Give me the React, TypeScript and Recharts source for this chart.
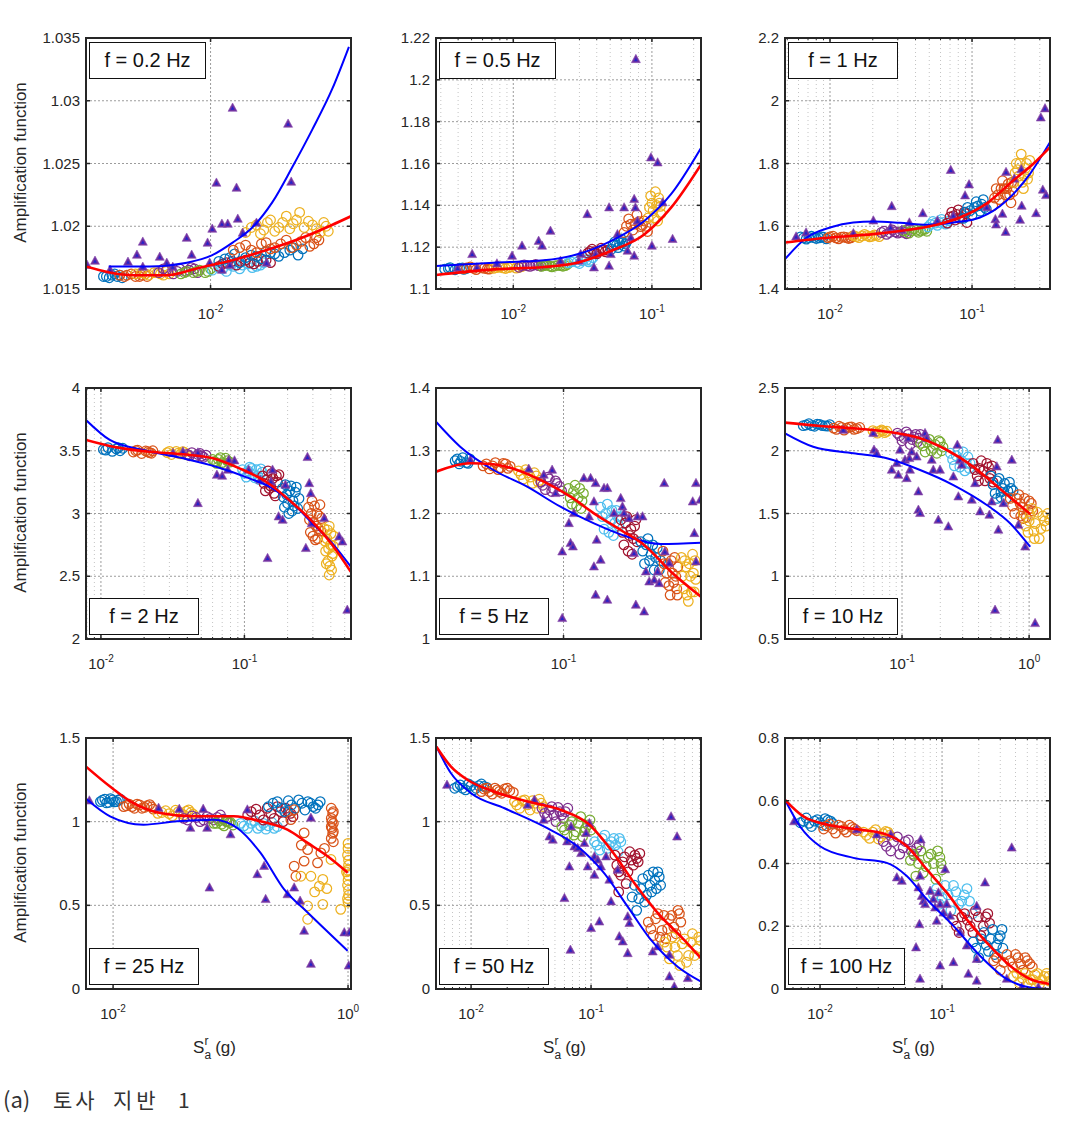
import React from 'react';
import { ComposedChart, Scatter, Line, XAxis, YAxis, CartesianGrid, ReferenceLine } from 'recharts';

// ---------- colours (MATLAB default order, cycling over the 10 intensity levels) ----------
const CLUSTER_COLORS = ['#0072BD', '#D95319', '#EDB120', '#7E2F8E', '#77AC30', '#4DBEEE', '#A2142F', '#0072BD', '#D95319', '#EDB120'];

// ---------- f = 0.2 Hz ----------
const p1Clusters = [
  '0.0029:1.0160 0.0031:1.0159 0.0032:1.0161 0.0034:1.0160 0.0036:1.0159 0.0033:1.0162',
  '0.0035:1.0161 0.0037:1.0160 0.0040:1.0162 0.0042:1.0160 0.0045:1.0161 0.0048:1.0160',
  '0.0042:1.0162 0.0045:1.0163 0.0049:1.0161 0.0052:1.0163 0.0056:1.0162 0.0060:1.0164 0.0062:1.0162',
  '0.0055:1.0163 0.0060:1.0165 0.0065:1.0162 0.0070:1.0166 0.0075:1.0164 0.0080:1.0167 0.0086:1.0163',
  '0.0071:1.0162 0.0076:1.0164 0.0082:1.0163 0.0088:1.0165 0.0094:1.0163 0.0100:1.0166',
  '0.0102:1.0165 0.0110:1.0167 0.0120:1.0164 0.0130:1.0168 0.0140:1.0166 0.0155:1.0170 0.0170:1.0168 0.0185:1.0171',
  '0.0110:1.0168 0.0120:1.0171 0.0135:1.0169 0.0150:1.0173 0.0165:1.0170 0.0180:1.0174 0.0200:1.0171',
  '0.0110:1.0172 0.0125:1.0175 0.0140:1.0171 0.0160:1.0177 0.0180:1.0174 0.0200:1.0179 0.0220:1.0176 0.0250:1.0181 0.0275:1.0177 0.0290:1.0182',
  '0.0130:1.0181 0.0150:1.0185 0.0170:1.0179 0.0190:1.0187 0.0210:1.0183 0.0240:1.0189 0.0270:1.0185 0.0300:1.0191 0.0330:1.0186 0.0350:1.0189',
  '0.0150:1.0195 0.0170:1.0201 0.0185:1.0197 0.0200:1.0205 0.0220:1.0199 0.0240:1.0208 0.0260:1.0202 0.0280:1.0211 0.0310:1.0204 0.0340:1.0198 0.0370:1.0203 0.0390:1.0196',
];
const p1Extra = [
  '0.0030:1.0160 0.0035:1.0161',
  '0.0038:1.0161 0.0044:1.0160 0.0047:1.0162',
  '0.0047:1.0162 0.0054:1.0163 0.0058:1.0161',
  '0.0058:1.0166 0.0068:1.0164 0.0078:1.0165 0.0083:1.0166',
  '0.0074:1.0163 0.0085:1.0164 0.0097:1.0164',
  '0.0115:1.0166 0.0125:1.0169 0.0145:1.0169 0.0162:1.0167 0.0178:1.0169',
  '0.0115:1.0170 0.0128:1.0172 0.0142:1.0172 0.0158:1.0171 0.0172:1.0172 0.0190:1.0173',
  '0.0118:1.0174 0.0132:1.0178 0.0150:1.0175 0.0170:1.0176 0.0190:1.0180 0.0210:1.0178 0.0235:1.0179 0.0260:1.0183',
  '0.0140:1.0183 0.0160:1.0181 0.0180:1.0186 0.0200:1.0182 0.0225:1.0186 0.0255:1.0183 0.0285:1.0188 0.0315:1.0184 0.0340:1.0191',
  '0.0160:1.0199 0.0178:1.0194 0.0193:1.0203 0.0210:1.0196 0.0230:1.0203 0.0250:1.0198 0.0270:1.0205 0.0295:1.0199 0.0325:1.0201 0.0355:1.0195 0.0380:1.0200',
];
const p1Triangles = '0.0024:1.0169 0.00263:1.01723 0.00313:1.01651 0.00385:1.01715 0.00427:1.01771 0.00457:1.01875 0.00457:1.01675 0.00556:1.01755 0.00603:1.01707 0.00646:1.01675 0.00759:1.01906 0.00804:1.01771 0.00966:1.01867 0.0102:1.01978 0.0107:1.02345 0.0114:1.02018 0.0122:1.02018 0.0129:1.02942 0.0135:1.02305 0.0137:1.02058 0.0145:1.01946 0.017:1.02026 0.0191:1.01707 0.0114:1.01651 0.0125:1.0169 0.0099:1.01707 0.0245:1.02815 0.0254:1.02353';
const p1Blue = '0.00308:1.0168 0.00495:1.0168 0.0076:1.0171 0.0102:1.0177 0.0129:1.0187 0.0162:1.0199 0.0204:1.0219 0.0257:1.0247 0.0324:1.0277 0.0407:1.0309 0.0495:1.0343';
const p1Red = '0.00237:1.0168 0.0041:1.0161 0.006:1.0161 0.0088:1.0167 0.0129:1.0173 0.0191:1.0181 0.0279:1.019 0.0407:1.0201 0.0507:1.0208';

// ---------- f = 0.5 Hz ----------
const p2Clusters = [
  '0.0032:1.1095 0.0035:1.1102 0.0038:1.1092 0.0041:1.1100 0.0044:1.1094 0.0046:1.1098',
  '0.0044:1.1097 0.0049:1.1105 0.0054:1.1093 0.0059:1.1101 0.0065:1.1096 0.0070:1.1104',
  '0.0072:1.1099 0.0080:1.1106 0.0088:1.1098 0.0096:1.1105 0.0105:1.1100 0.0115:1.1107',
  '0.0110:1.1104 0.0120:1.1115 0.0132:1.1108 0.0145:1.1118 0.0158:1.1110 0.0172:1.1116',
  '0.0160:1.1108 0.0175:1.1115 0.0190:1.1106 0.0210:1.1113 0.0228:1.1109 0.0245:1.1117',
  '0.0250:1.1125 0.0275:1.1138 0.0300:1.1122 0.0325:1.1145 0.0350:1.1130 0.0375:1.1150',
  '0.0345:1.1172 0.0370:1.1190 0.0400:1.1168 0.0430:1.1195 0.0460:1.1178 0.0480:1.1186',
  '0.0510:1.1190 0.0540:1.1225 0.0570:1.1198 0.0600:1.1240 0.0630:1.1205 0.0660:1.1228',
  '0.0630:1.1270 0.0680:1.1335 0.0730:1.1282 0.0780:1.1355 0.0830:1.1298 0.0880:1.1325 0.0930:1.1275',
  '0.0940:1.1340 0.0980:1.1445 0.1020:1.1375 0.1060:1.1465 0.1100:1.1325 0.1130:1.1410 0.1160:1.1360',
];
const p2Extra = [
  '0.0034:1.1098 0.0043:1.1101',
  '0.0046:1.1101 0.0052:1.1099 0.0062:1.1099 0.0067:1.1095',
  '0.0076:1.1102 0.0084:1.1101 0.0092:1.1102 0.0110:1.1103',
  '0.0115:1.1112 0.0126:1.1111 0.0138:1.1113 0.0152:1.1112 0.0165:1.1113',
  '0.0168:1.1112 0.0183:1.1110 0.0200:1.1110 0.0220:1.1112 0.0237:1.1112',
  '0.0262:1.1130 0.0288:1.1128 0.0312:1.1135 0.0338:1.1138 0.0362:1.1137',
  '0.0358:1.1180 0.0385:1.1178 0.0415:1.1182 0.0445:1.1185',
  '0.0525:1.1210 0.0555:1.1210 0.0585:1.1220 0.0615:1.1222 0.0645:1.1215',
  '0.0655:1.1300 0.0705:1.1310 0.0755:1.1310 0.0805:1.1322 0.0855:1.1305 0.0905:1.1300',
  '0.0960:1.1390 0.1000:1.1410 0.1040:1.1340 0.1080:1.1400 0.1120:1.1435 0.1150:1.1395',
];
const p2Triangles = '0.00397:1.1099 0.00505:1.1166 0.00546:1.1102 0.00762:1.1121 0.0098:1.1158 0.01156:1.1206 0.01524:1.1229 0.01614:1.1206 0.01854:1.1277 0.0219:1.1134 0.0297:1.1134 0.0306:1.1166 0.0342:1.1357 0.0382:1.1102 0.0393:1.1166 0.0491:1.1389 0.0491:1.111 0.0505:1.1166 0.0564:1.1261 0.063:1.1389 0.0667:1.1182 0.0705:1.1245 0.0745:1.1429 0.076:1.1389 0.0787:1.1325 0.0745:1.1158 0.0984:1.1628 0.1:1.1206 0.11:1.1604 0.1197:1.1413 0.141:1.1238 0.0766:1.2098';
const p2Blue = '0.00277:1.111 0.0072:1.1126 0.0166:1.1137 0.029:1.1166 0.0505:1.1229 0.088:1.1325 0.1374:1.1453 0.2265:1.1675';
const p2Red = '0.00277:1.1067 0.0072:1.1094 0.0166:1.1105 0.029:1.1126 0.0505:1.1182 0.088:1.1261 0.1374:1.1389 0.2265:1.1596';

// ---------- f = 1 Hz ----------
const p3Clusters = [
  '0.0062:1.566 0.0068:1.559 0.0074:1.568 0.0080:1.561 0.0087:1.566 0.0094:1.560',
  '0.0097:1.563 0.0105:1.568 0.0115:1.560 0.0125:1.566 0.0135:1.561 0.0144:1.568',
  '0.0147:1.570 0.0160:1.564 0.0175:1.574 0.0190:1.566 0.0205:1.572 0.0222:1.567',
  '0.0230:1.580 0.0250:1.574 0.0275:1.588 0.0300:1.578 0.0325:1.585 0.0345:1.576',
  '0.0330:1.585 0.0360:1.578 0.0390:1.592 0.0420:1.581 0.0450:1.589 0.0480:1.584',
  '0.0490:1.598 0.0530:1.615 0.0570:1.603 0.0610:1.622 0.0650:1.607 0.0690:1.617',
  '0.0670:1.610 0.0720:1.645 0.0760:1.620 0.0800:1.652 0.0850:1.628 0.0900:1.640 0.0920:1.612',
  '0.0870:1.625 0.0930:1.660 0.1000:1.635 0.1070:1.678 0.1140:1.648 0.1200:1.685 0.1260:1.655',
  '0.1400:1.665 0.1480:1.720 0.1560:1.685 0.1640:1.745 0.1720:1.700 0.1800:1.735 0.1880:1.675 0.1950:1.710',
  '0.1970:1.740 0.2050:1.800 0.2130:1.760 0.2220:1.830 0.2300:1.720 0.2380:1.785 0.2460:1.750 0.2550:1.810',
];
const p3Extra = [
  '0.0065:1.563 0.0071:1.564 0.0077:1.564 0.0084:1.563 0.0090:1.565',
  '0.0100:1.566 0.0110:1.563 0.0120:1.565 0.0130:1.564 0.0140:1.563',
  '0.0153:1.567 0.0168:1.569 0.0182:1.570 0.0197:1.568 0.0213:1.571',
  '0.0240:1.584 0.0262:1.580 0.0288:1.582 0.0312:1.581 0.0335:1.580',
  '0.0345:1.588 0.0375:1.586 0.0405:1.587 0.0435:1.585 0.0465:1.590',
  '0.0510:1.606 0.0550:1.610 0.0590:1.612 0.0630:1.612 0.0670:1.610',
  '0.0700:1.630 0.0740:1.633 0.0780:1.638 0.0820:1.625 0.0880:1.645',
  '0.0900:1.645 0.0970:1.650 0.1040:1.660 0.1100:1.665 0.1170:1.670 0.1230:1.660',
  '0.1440:1.690 0.1520:1.700 0.1600:1.720 0.1680:1.720 0.1760:1.720 0.1840:1.700 0.1900:1.740',
  '0.2010:1.770 0.2090:1.780 0.2170:1.800 0.2260:1.740 0.2340:1.760 0.2420:1.800 0.2500:1.770',
];
const p3Triangles = '0.00577:1.5664 0.00678:1.5792 0.0146:1.577 0.0202:1.6176 0.0272:1.6634 0.0267:1.596 0.032:1.5878 0.0362:1.6112 0.045:1.641 0.057:1.6176 0.0708:1.7786 0.0738:1.6336 0.0893:1.6976 0.0953:1.7328 0.127:1.66 0.146:1.6218 0.1476:1.6048 0.1637:1.639 0.1726:1.5814 0.1735:1.7722 0.1986:1.751 0.218:1.6198 0.2224:1.7808 0.2238:1.6646 0.2825:1.641 0.305:1.946 0.3266:1.975 0.315:1.7158 0.332:1.6986';
const p3Blue = '0.00482:1.495 0.00686:1.564 0.01:1.596 0.0146:1.612 0.0202:1.615 0.0311:1.611 0.048:1.605 0.0738:1.612 0.1138:1.628 0.1754:1.682 0.256:1.767 0.354:1.868';
const p3Red = '0.00482:1.548 0.01:1.564 0.0202:1.575 0.0347:1.588 0.0564:1.605 0.0822:1.628 0.127:1.673 0.1954:1.746 0.2705:1.799 0.354:1.852';

// ---------- f = 2 Hz ----------
const p4Clusters = [
  '0.0104:3.510 0.0112:3.525 0.0120:3.495 0.0128:3.515 0.0136:3.500 0.0142:3.520',
  '0.0168:3.490 0.0180:3.505 0.0192:3.478 0.0205:3.498 0.0218:3.485 0.0230:3.500',
  '0.0290:3.485 0.0310:3.470 0.0335:3.495 0.0360:3.475 0.0380:3.488 0.0395:3.468',
  '0.0400:3.470 0.0430:3.485 0.0460:3.455 0.0490:3.478 0.0520:3.448 0.0540:3.465',
  '0.0600:3.430 0.0640:3.400 0.0680:3.445 0.0720:3.390 0.0760:3.420 0.0790:3.410',
  '0.0970:3.350 0.1030:3.290 0.1090:3.370 0.1150:3.310 0.1210:3.350 0.1270:3.270 0.1330:3.330',
  '0.1340:3.300 0.1400:3.180 0.1460:3.340 0.1520:3.220 0.1580:3.280 0.1640:3.140 0.1700:3.250 0.1740:3.310',
  '0.1840:3.200 0.1900:3.050 0.1970:3.150 0.2040:3.000 0.2110:3.220 0.2180:3.100 0.2260:3.170 0.2350:3.040 0.2400:3.120',
  '0.2800:3.050 0.2880:2.850 0.2960:3.100 0.3040:2.930 0.3120:2.790 0.3200:3.000 0.3280:2.880 0.3360:3.070 0.3450:2.960',
  '0.3600:2.880 0.3680:2.700 0.3750:2.800 0.3820:2.620 0.3900:2.900 0.3980:2.750 0.4050:2.550 0.4120:2.680 0.4200:2.820 0.3900:2.510',
];
const p4Extra = [
  '0.0108:3.505 0.0132:3.525',
  '0.0175:3.500 0.0212:3.492 0.0225:3.480',
  '0.0300:3.495 0.0345:3.480 0.0372:3.492',
  '0.0415:3.460 0.0475:3.470 0.0505:3.458',
  '0.0620:3.415 0.0660:3.430 0.0700:3.405 0.0740:3.440',
  '0.1000:3.320 0.1060:3.340 0.1120:3.360 0.1180:3.285 0.1240:3.300 0.1300:3.355',
  '0.1370:3.240 0.1430:3.270 0.1490:3.200 0.1550:3.320 0.1610:3.160 0.1670:3.300',
  '0.1870:3.130 0.1930:3.230 0.2000:3.080 0.2070:3.180 0.2150:3.020 0.2220:3.060 0.2300:3.210',
  '0.2840:2.950 0.2920:3.000 0.3000:2.820 0.3080:3.060 0.3160:2.900 0.3240:2.800 0.3320:2.980 0.3400:2.860',
  '0.3640:2.780 0.3720:2.600 0.3790:2.870 0.3860:2.720 0.3940:2.580 0.4010:2.840 0.4080:2.660 0.4160:2.740',
];
const p4Triangles = '0.0318:3.48 0.0373:3.492 0.0474:3.484 0.0474:3.081 0.0643:3.307 0.07:3.299 0.0766:3.347 0.0778:3.426 0.0853:3.421 0.107:3.347 0.129:3.267 0.145:2.643 0.153:3.253 0.157:3.347 0.173:2.975 0.1845:2.948 0.193:3.227 0.275:3.448 0.283:3.24 0.29:3.16 0.294:2.92 0.268:2.723 0.36:2.962 0.457:2.815 0.482:2.775 0.521:2.231';
const p4Blue = '0.00787:3.745 0.01153:3.586 0.0197:3.506 0.0373:3.44 0.0635:3.373 0.1084:3.28 0.157:3.2 0.217:3.081 0.298:2.922 0.41:2.762 0.551:2.576';
const p4Red = '0.00787:3.586 0.01285:3.527 0.0219:3.492 0.0373:3.472 0.0603:3.44 0.0923:3.36 0.1416:3.253 0.205:3.108 0.298:2.935 0.41:2.749 0.551:2.536';

// ---------- f = 5 Hz ----------
const p5Clusters = [
  '0.0180:1.284 0.0192:1.279 0.0203:1.289 0.0215:1.281 0.0227:1.287',
  '0.0280:1.276 0.0310:1.271 0.0340:1.281 0.0370:1.273 0.0400:1.279 0.0430:1.275',
  '0.0490:1.268 0.0530:1.255 0.0570:1.265 0.0610:1.248 0.0650:1.260 0.0690:1.253',
  '0.0700:1.250 0.0750:1.238 0.0800:1.255 0.0850:1.240 0.0900:1.248 0.0970:1.236',
  '0.1080:1.240 0.1140:1.215 0.1200:1.245 0.1260:1.225 0.1320:1.208 0.1370:1.232',
  '0.1800:1.210 0.1900:1.175 0.2000:1.215 0.2100:1.190 0.2200:1.165 0.2300:1.205 0.2400:1.180 0.2470:1.195',
  '0.2480:1.190 0.2600:1.150 0.2720:1.195 0.2840:1.165 0.2960:1.135 0.3080:1.180 0.3200:1.155',
  '0.3400:1.155 0.3600:1.120 0.3800:1.160 0.4000:1.135 0.4200:1.110 0.4400:1.145 0.4650:1.125',
  '0.4820:1.140 0.5000:1.090 0.5200:1.120 0.5400:1.070 0.5600:1.105 0.5800:1.130 0.6000:1.080 0.6100:1.115',
  '0.6450:1.130 0.6700:1.080 0.6950:1.115 0.7200:1.060 0.7450:1.100 0.7700:1.135 0.7900:1.075 0.8100:1.095',
];
const p5Extra = [
  '0.0186:1.287 0.0197:1.283 0.0221:1.280',
  '0.0295:1.279 0.0325:1.276 0.0355:1.270 0.0385:1.280 0.0415:1.272',
  '0.0510:1.262 0.0550:1.270 0.0590:1.258 0.0630:1.265 0.0670:1.250',
  '0.0720:1.245 0.0780:1.258 0.0830:1.235 0.0880:1.252 0.0940:1.243',
  '0.1110:1.225 0.1170:1.235 0.1230:1.212 0.1290:1.240 0.1340:1.220',
  '0.1850:1.195 0.1950:1.200 0.2050:1.170 0.2150:1.205 0.2250:1.185 0.2350:1.195',
  '0.2540:1.170 0.2660:1.185 0.2780:1.140 0.2900:1.175 0.3020:1.160 0.3140:1.190',
  '0.3500:1.140 0.3700:1.150 0.3900:1.125 0.4100:1.150 0.4300:1.130 0.4550:1.110',
  '0.4900:1.120 0.5100:1.105 0.5300:1.085 0.5500:1.125 0.5700:1.090 0.5900:1.100 0.6050:1.070',
  '0.6550:1.100 0.6800:1.125 0.7050:1.070 0.7300:1.120 0.7550:1.075 0.7800:1.105 0.8000:1.125',
];
const p5Triangles = '0.0229:1.2853 0.0577:1.2709 0.0732:1.2614 0.0835:1.2693 0.0881:1.2322 0.098:1.1391 0.098:1.033 0.1089:1.1843 0.1117:1.1525 0.116:1.1471 0.1178:1.2003 0.138:1.2561 0.1535:1.2561 0.1496:1.195 0.1618:1.2188 0.1662:1.2481 0.169:1.1578 0.1618:1.1152 0.18:1.1259 0.1662:1.0701 0.1897:1.2402 0.2:1.2402 0.2:1.0622 0.2223:1.2003 0.2472:1.2242 0.254:1.2108 0.2606:1.2003 0.282:1.1923 0.305:1.1366 0.314:1.0542 0.322:1.195 0.349:1.195 0.358:1.0435 0.368:1.1073 0.388:1.0913 0.42:1.094 0.443:1.1073 0.454:1.0887 0.492:1.2481 0.497:1.1391 0.532:1.1206 0.813:1.2481 0.792:1.1684 0.772:1.2188 0.87:1.2215 0.813:1.1232';
const p5Blue = '0.0133:1.3463 0.0195:1.3065 0.033:1.2693 0.0562:1.2427 0.0953:1.2108 0.1618:1.1843 0.275:1.163 0.467:1.1514 0.88:1.1535';
const p5Red = '0.0133:1.2666 0.0229:1.28 0.033:1.2784 0.048:1.2693 0.0732:1.2507 0.1117:1.2268 0.1618:1.2003 0.247:1.1737 0.358:1.1498 0.547:1.1073 0.88:1.0674';

// ---------- f = 10 Hz ----------
const p6Clusters = [
  '0.0167:2.200 0.0185:2.215 0.0205:2.195 0.0225:2.210 0.0248:2.198 0.0270:2.208',
  '0.0290:2.180 0.0320:2.195 0.0350:2.165 0.0385:2.188 0.0420:2.170 0.0465:2.185',
  '0.0590:2.160 0.0640:2.140 0.0690:2.165 0.0730:2.145 0.0760:2.155',
  '0.0920:2.140 0.1000:2.080 0.1080:2.150 0.1160:2.050 0.1240:2.110 0.1320:2.070 0.1390:2.130',
  '0.1400:2.060 0.1520:1.990 0.1640:2.090 0.1760:2.020 0.1880:1.980 0.2000:2.070 0.2100:2.030',
  '0.2400:1.980 0.2580:1.880 0.2760:2.000 0.2940:1.920 0.3120:1.840 0.3300:1.950 0.3430:1.900',
  '0.3620:1.900 0.3900:1.800 0.4200:1.920 0.4500:1.760 0.4800:1.870 0.5000:1.820 0.5200:1.750',
  '0.5000:1.800 0.5400:1.660 0.5800:1.780 0.6200:1.700 0.6600:1.620 0.7000:1.750 0.7480:1.680 0.6000:1.630',
  '0.7100:1.620 0.7700:1.500 0.8300:1.650 0.8900:1.550 0.9500:1.470 1.0000:1.600 1.0700:1.520 0.8500:1.580',
  '0.9000:1.500 0.9800:1.350 1.0500:1.540 1.1200:1.420 1.2000:1.300 1.2800:1.480 1.3600:1.400 1.4500:1.450 1.0000:1.440',
];
const p6Extra = [
  '0.0176:2.205 0.0195:2.200 0.0215:2.212 0.0236:2.200 0.0260:2.196',
  '0.0305:2.170 0.0335:2.185 0.0365:2.180 0.0400:2.190 0.0440:2.176',
  '0.0615:2.150 0.0665:2.155 0.0710:2.158',
  '0.0960:2.120 0.1040:2.100 0.1120:2.130 0.1200:2.090 0.1280:2.130 0.1350:2.100',
  '0.1460:2.040 0.1580:2.070 0.1700:2.000 0.1820:2.050 0.1940:2.080 0.2050:2.000',
  '0.2500:1.930 0.2670:1.960 0.2850:1.870 0.3030:1.990 0.3200:1.900 0.3380:1.860',
  '0.3750:1.850 0.4050:1.860 0.4350:1.840 0.4650:1.900 0.4900:1.780 0.5100:1.880 0.4000:1.760',
  '0.5200:1.730 0.5600:1.760 0.6000:1.670 0.6400:1.740 0.6800:1.680 0.7200:1.700 0.5600:1.620',
  '0.7400:1.560 0.8000:1.620 0.8600:1.480 0.9200:1.620 0.9800:1.530 1.0400:1.580 0.9000:1.460',
  '0.9400:1.400 1.0200:1.490 1.0900:1.360 1.1600:1.510 1.2400:1.380 1.3200:1.440 1.4000:1.500 1.1000:1.300',
];
const p6Triangles = '0.0345:2.165 0.0594:2.139 0.0602:2.006 0.0632:1.98 0.083:1.847 0.0908:1.9 0.0935:1.807 0.0964:2.006 0.1056:1.926 0.1089:1.78 0.112:2.099 0.1142:1.94 0.1156:1.847 0.1192:1.992 0.1305:1.952 0.1345:1.528 0.1387:1.502 0.1345:1.674 0.1517:2.139 0.1563:2.099 0.1713:1.926 0.1763:1.847 0.1931:1.448 0.199:1.847 0.2315:1.395 0.2536:1.793 0.2725:2.046 0.2862:1.926 0.2776:1.634 0.295:1.886 0.354:1.608 0.3758:1.74 0.4113:1.515 0.4866:1.488 0.508:1.594 0.5395:0.731 0.557:1.873 0.567:2.086 0.573:1.369 0.628:1.581 0.731:1.926 0.824:1.408 0.931:1.235 1.114:0.625';
const p6Blue = '0.012:2.139 0.02:2.032 0.0414:1.98 0.0759:1.94 0.1387:1.847 0.2536:1.727 0.4645:1.568 0.708:1.422 1.019:1.235';
const p6Red = '0.012:2.224 0.0226:2.197 0.0414:2.179 0.0759:2.152 0.1387:2.099 0.225:2.006 0.364:1.873 0.524:1.741 0.752:1.608 1.019:1.496';

// ---------- f = 25 Hz ----------
const p7Clusters = [
  '0.0078:1.120 0.0085:1.135 0.0092:1.115 0.0099:1.130 0.0107:1.120 0.0115:1.135',
  '0.0123:1.090 0.0137:1.105 0.0152:1.080 0.0168:1.100 0.0185:1.085 0.0205:1.102 0.0220:1.075',
  '0.0240:1.050 0.0280:1.065 0.0320:1.035 0.0360:1.060 0.0400:1.040 0.0440:1.070 0.0480:1.045',
  '0.0400:1.020 0.0470:1.035 0.0550:1.000 0.0630:1.030 0.0720:1.010 0.0820:1.040 0.0930:1.000',
  '0.0720:0.990 0.0800:1.005 0.0880:0.975 0.0970:0.995 0.1050:0.980',
  '0.1220:0.990 0.1400:0.960 0.1600:1.005 0.1800:0.975 0.2000:0.955 0.2250:0.995 0.2500:0.970',
  '0.1400:1.040 0.1650:1.075 0.1900:1.010 0.2200:1.050 0.2500:1.090 0.2800:1.000 0.3100:1.060 0.3400:1.030',
  '0.2100:1.090 0.2500:1.120 0.2900:1.060 0.3300:1.100 0.3800:1.130 0.4300:1.070 0.4800:1.110 0.5300:1.080 0.5800:1.120',
  '0.326:1.012 0.348:1.071 0.423:0.933 0.348:0.734 0.423:0.764 0.36:0.674 0.453:0.833 0.55:0.754 0.587:0.813 0.72:1.08 0.74:1.05 0.72:1.02 0.75:0.99 0.73:0.96 0.74:0.93 0.72:0.9 0.75:0.88',
  '0.397:0.674 0.453:0.496 0.61:0.506 0.57:0.615 0.866:0.476 0.483:0.674 0.61:0.655 0.453:0.417 0.716:0.774 1.0:0.87 0.99:0.8 1.01:0.74 1.0:0.68 0.99:0.62 1.01:0.56 1.0:0.52 0.97:0.7',
];
const p7Extra = [
  '0.0081:1.128 0.0088:1.112 0.0095:1.138 0.0103:1.118 0.0111:1.128',
  '0.0130:1.095 0.0145:1.090 0.0160:1.105 0.0176:1.080 0.0195:1.095 0.0212:1.088',
  '0.0260:1.055 0.0300:1.048 0.0340:1.068 0.0380:1.050 0.0420:1.062 0.0460:1.055',
  '0.0430:1.010 0.0510:1.025 0.0590:1.010 0.0670:1.020 0.0770:1.025 0.0870:1.015',
  '0.0760:0.990 0.0840:0.985 0.0920:1.000 0.1000:0.995',
  '0.1300:0.975 0.1500:0.990 0.1700:0.960 0.1900:0.990 0.2100:0.975 0.2350:0.960',
  '0.1500:1.060 0.1770:1.040 0.2050:1.080 0.2350:1.020 0.2650:1.060 0.2950:1.080 0.3250:1.050',
  '0.2300:1.110 0.2700:1.080 0.3100:1.125 0.3550:1.080 0.4050:1.110 0.4550:1.120 0.5050:1.090 0.5550:1.100',
  '0.7500:1.060 0.7300:1.000 0.7500:0.940 0.7200:0.970 0.4000:0.860 0.6300:0.840',
  '1.0000:0.840 1.0100:0.770 0.9900:0.710 1.0000:0.650 1.0100:0.590 0.9900:0.540 0.5200:0.580 0.6600:0.600',
];
const p7Triangles = '0.00628:1.125 0.0244:1.081 0.0366:1.075 0.0455:0.962 0.0585:1.075 0.0662:0.605 0.0632:0.962 0.1:0.923 0.139:1.071 0.169:0.685 0.193:0.734 0.199:0.536 0.305:0.565 0.348:0.605 0.391:0.526 0.423:0.347 0.483:0.149 0.483:1.022 0.929:0.337 1.026:0.337 1.014:0.139';
const p7Blue = '0.00588:1.137 0.00942:1.032 0.01815:0.982 0.035:1.002 0.072:1.012 0.114:0.962 0.18:0.813 0.286:0.595 0.453:0.457 0.993:0.228';
const p7Red = '0.00588:1.329 0.00942:1.21 0.0149:1.111 0.0252:1.052 0.0485:1.032 0.1067:1.032 0.18:1.002 0.305:0.952 0.453:0.873 0.67:0.793 0.993:0.695';

// ---------- f = 50 Hz ----------
const p8Clusters = [
  '0.0073:1.200 0.0081:1.220 0.0090:1.190 0.0100:1.215 0.0110:1.200 0.0122:1.225 0.0135:1.205',
  '0.0122:1.180 0.0135:1.200 0.0150:1.165 0.0165:1.190 0.0180:1.170 0.0200:1.200 0.0225:1.175',
  '0.0230:1.120 0.0255:1.080 0.0280:1.130 0.0310:1.070 0.0340:1.110 0.0370:1.135 0.0400:1.090',
  '0.0390:1.080 0.0430:1.030 0.0470:1.090 0.0510:1.000 0.0550:1.060 0.0590:1.020 0.0640:1.080',
  '0.0570:0.970 0.0630:0.920 0.0690:1.000 0.0750:0.940 0.0820:1.030 0.0900:0.960 0.0980:1.010 0.0850:0.910',
  '0.1070:0.880 0.1180:0.830 0.1300:0.920 0.1420:0.860 0.1550:0.900 0.1680:0.820 0.1770:0.880',
  '0.1580:0.800 0.1700:0.700 0.1830:0.760 0.1960:0.630 0.2100:0.820 0.2250:0.740 0.2400:0.780 0.2550:0.810 0.1700:0.580',
  '0.2200:0.550 0.2400:0.470 0.2600:0.600 0.2800:0.520 0.3000:0.680 0.3200:0.580 0.3400:0.650 0.3600:0.700 0.3800:0.620',
  '0.3000:0.400 0.3300:0.320 0.3600:0.450 0.3900:0.350 0.4200:0.300 0.4500:0.420 0.4900:0.370 0.5300:0.470 0.5600:0.400',
  '0.4100:0.280 0.4500:0.180 0.5000:0.250 0.5500:0.140 0.6000:0.300 0.6500:0.200 0.7000:0.330 0.7600:0.240 0.8200:0.290',
];
const p8Extra = [
  '0.0077:1.210 0.0085:1.200 0.0095:1.225 0.0105:1.190 0.0116:1.215 0.0128:1.210',
  '0.0128:1.195 0.0142:1.180 0.0158:1.200 0.0172:1.180 0.0190:1.195 0.0210:1.185',
  '0.0240:1.100 0.0268:1.125 0.0295:1.100 0.0325:1.125 0.0355:1.080 0.0385:1.110',
  '0.0410:1.050 0.0450:1.070 0.0490:1.040 0.0530:1.085 0.0570:1.040 0.0610:1.060',
  '0.0600:0.950 0.0660:0.980 0.0720:0.920 0.0780:0.990 0.0880:0.940 0.0940:0.980 0.1000:0.950',
  '0.1120:0.860 0.1240:0.900 0.1360:0.840 0.1480:0.880 0.1600:0.860 0.1720:0.900',
  '0.1640:0.740 0.1770:0.680 0.1900:0.790 0.2030:0.700 0.2170:0.770 0.2320:0.800 0.2470:0.760',
  '0.2300:0.620 0.2500:0.540 0.2700:0.660 0.2900:0.560 0.3100:0.620 0.3300:0.700 0.3500:0.600 0.3700:0.670',
  '0.3150:0.360 0.3450:0.420 0.3750:0.310 0.4050:0.440 0.4350:0.360 0.4700:0.440 0.5100:0.330 0.5450:0.450',
  '0.4300:0.250 0.4750:0.310 0.5250:0.200 0.5750:0.270 0.6250:0.160 0.6750:0.280 0.7300:0.200 0.7900:0.310',
];
const p8Triangles = '0.0063:1.219 0.0296:1.1 0.0337:1.13 0.0403:1.01 0.045:0.91 0.048:0.891 0.06:0.542 0.0631:0.881 0.066:0.731 0.0673:0.233 0.0681:0.97 0.0726:0.851 0.0774:0.841 0.0826:0.811 0.088:0.871 0.0908:0.931 0.0938:0.731 0.0968:0.99 0.1:0.363 0.1066:0.791 0.1066:0.681 0.1137:0.771 0.1173:0.402 0.121:0.731 0.1334:0.791 0.142:0.652 0.1468:0.522 0.1668:0.711 0.172:0.313 0.1837:0.283 0.2022:0.213 0.2022:0.432 0.2086:0.393 0.3266:0.223 0.3594:0.253 0.4645:1.03 0.521:0.91 0.45:0.203 0.45:0.074 0.494:0.014 0.64:0.064';
const p8Blue = '0.00514:1.448 0.0068:1.289 0.01:1.17 0.019:1.08 0.0408:0.97 0.0774:0.851 0.129:0.691 0.202:0.492 0.316:0.293 0.527:0.133 0.826:0.044';
const p8Red = '0.00514:1.448 0.0068:1.329 0.00938:1.249 0.0156:1.179 0.0296:1.12 0.0562:1.07 0.0938:0.99 0.147:0.831 0.23:0.632 0.383:0.432 0.562:0.313 0.826:0.183';

// ---------- f = 100 Hz ----------
const p9Clusters = [
  '0.0069:0.530 0.0077:0.545 0.0085:0.518 0.0095:0.540 0.0105:0.522 0.0116:0.538 0.0127:0.528',
  '0.0107:0.510 0.0120:0.525 0.0134:0.497 0.0150:0.518 0.0165:0.500 0.0183:0.515 0.0200:0.505',
  '0.0227:0.500 0.0255:0.480 0.0285:0.508 0.0315:0.485 0.0345:0.502 0.0373:0.490',
  '0.0330:0.470 0.0380:0.440 0.0430:0.485 0.0480:0.450 0.0530:0.475 0.0590:0.425 0.0650:0.460',
  '0.0550:0.410 0.0610:0.360 0.0670:0.440 0.0740:0.390 0.0810:0.430 0.0890:0.350 0.0960:0.420 0.1000:0.380',
  '0.0850:0.300 0.0950:0.270 0.1060:0.330 0.1180:0.250 0.1300:0.310 0.1450:0.280 0.1600:0.320 0.1780:0.240',
  '0.1240:0.220 0.1380:0.180 0.1530:0.240 0.1700:0.200 0.1880:0.250 0.2080:0.170 0.2280:0.230 0.2450:0.210',
  '0.1800:0.150 0.2000:0.100 0.2200:0.180 0.2400:0.120 0.2600:0.190 0.2800:0.140 0.3000:0.170 0.3150:0.130',
  '0.2650:0.090 0.3000:0.060 0.3400:0.110 0.3800:0.070 0.4200:0.100 0.4600:0.060 0.5000:0.090 0.5500:0.070',
  '0.3850:0.040 0.4300:0.020 0.4800:0.050 0.5300:0.030 0.5800:0.045 0.6300:0.015 0.6900:0.040 0.7600:0.025',
];
const p9Extra = [
  '0.0073:0.535 0.0081:0.528 0.0090:0.535 0.0100:0.530 0.0110:0.543 0.0122:0.535',
  '0.0113:0.520 0.0127:0.510 0.0142:0.522 0.0157:0.508 0.0174:0.522 0.0192:0.510',
  '0.0240:0.490 0.0270:0.500 0.0300:0.478 0.0330:0.495 0.0360:0.500',
  '0.0350:0.455 0.0400:0.470 0.0450:0.430 0.0500:0.470 0.0560:0.440 0.0620:0.450',
  '0.0580:0.430 0.0640:0.400 0.0700:0.370 0.0770:0.420 0.0850:0.400 0.0920:0.440 0.0980:0.400',
  '0.0900:0.320 0.1000:0.290 0.1120:0.300 0.1240:0.330 0.1370:0.270 0.1520:0.300 0.1680:0.280',
  '0.1310:0.200 0.1450:0.230 0.1610:0.220 0.1790:0.180 0.1980:0.230 0.2180:0.200 0.2370:0.240',
  '0.1900:0.130 0.2100:0.160 0.2300:0.140 0.2500:0.160 0.2700:0.110 0.2900:0.160 0.3100:0.190',
  '0.2800:0.100 0.3200:0.085 0.3600:0.090 0.4000:0.110 0.4400:0.080 0.4800:0.100 0.5250:0.080',
  '0.4100:0.050 0.4550:0.035 0.5050:0.020 0.5550:0.030 0.6050:0.050 0.6600:0.030 0.7200:0.050 0.7500:0.040',
];
const p9Triangles = '0.00612:0.534 0.02:0.508 0.0292:0.492 0.038:0.492 0.0426:0.355 0.0468:0.344 0.064:0.323 0.066:0.36 0.0669:0.476 0.0681:0.296 0.0703:0.28 0.0726:0.27 0.0652:0.206 0.0612:0.132 0.066:0.032 0.0798:0.312 0.0849:0.286 0.0877:0.259 0.0904:0.217 0.0933:0.307 0.0964:0.27 0.0964:0.074 0.1026:0.243 0.106:0.381 0.1094:0.27 0.1164:0.233 0.124:0.085 0.1406:0.18 0.1593:0.138 0.1643:0.048 0.1923:0.026 0.225:0.339 0.1923:0.095 0.1923:0.264 0.3724:0.45 0.339:0.032 0.45:0.005 0.615:0.005';
const p9Blue = '0.00516:0.603 0.00686:0.518 0.01:0.455 0.01875:0.418 0.0352:0.402 0.0514:0.36 0.075:0.286 0.124:0.201 0.2047:0.106 0.339:0.032 0.526:0.005 0.767:0.0';
const p9Red = '0.00516:0.603 0.0073:0.55 0.01135:0.524 0.0213:0.508 0.0352:0.492 0.0514:0.455 0.075:0.381 0.1094:0.307 0.1593:0.222 0.2323:0.148 0.3606:0.074 0.526:0.032 0.767:0.016';

// ---------- axes / labels ----------
const panelLabels = ['f = 0.2 Hz', 'f = 0.5 Hz', 'f = 1 Hz', 'f = 2 Hz', 'f = 5 Hz', 'f = 10 Hz', 'f = 25 Hz', 'f = 50 Hz', 'f = 100 Hz'];
const xDomains: [number, number][] = [
  [0.00237, 0.0507], [0.00277, 0.226], [0.00482, 0.354],
  [0.00787, 0.553], [0.0133, 0.88], [0.012, 1.46],
  [0.00588, 1.06], [0.0051, 0.825], [0.00516, 0.767],
];
const xMajorTicks: number[][] = [
  [0.01], [0.01, 0.1], [0.01, 0.1],
  [0.01, 0.1], [0.1], [0.1, 1],
  [0.01, 1], [0.01, 0.1], [0.01, 0.1],
];
const xMinorGrid = [false, true, true, true, false, true, false, true, true];
const yDomains: [number, number][] = [
  [1.015, 1.035], [1.1, 1.22], [1.4, 2.2],
  [2, 4], [1, 1.4], [0.5, 2.5],
  [0, 1.5], [0, 1.5], [0, 0.8],
];
const yTickValues: number[][] = [
  [1.015, 1.02, 1.025, 1.03, 1.035],
  [1.1, 1.12, 1.14, 1.16, 1.18, 1.2, 1.22],
  [1.4, 1.6, 1.8, 2, 2.2],
  [2, 2.5, 3, 3.5, 4],
  [1, 1.1, 1.2, 1.3, 1.4],
  [0.5, 1, 1.5, 2, 2.5],
  [0, 0.5, 1, 1.5],
  [0, 0.5, 1, 1.5],
  [0, 0.2, 0.4, 0.6, 0.8],
];
const Y_TITLE = 'Amplification function';
const CAPTION_PARTS = ['(a)', '토사', '지반', '1'];

const allClusters = [p1Clusters, p2Clusters, p3Clusters, p4Clusters, p5Clusters, p6Clusters, p7Clusters, p8Clusters, p9Clusters];
const allExtra = [p1Extra, p2Extra, p3Extra, p4Extra, p5Extra, p6Extra, p7Extra, p8Extra, p9Extra];
const allTriangles = [p1Triangles, p2Triangles, p3Triangles, p4Triangles, p5Triangles, p6Triangles, p7Triangles, p8Triangles, p9Triangles];
const allBlue = [p1Blue, p2Blue, p3Blue, p4Blue, p5Blue, p6Blue, p7Blue, p8Blue, p9Blue];
const allRed = [p1Red, p2Red, p3Red, p4Red, p5Red, p6Red, p7Red, p8Red, p9Red];

// ---------- layout ----------
const COL_LEFT = [86, 436, 785];
const ROW_TOP = [38, 388, 738];
const PW = 265;
const PH = 251;
const FONT = 'Arial, "Liberation Sans", Helvetica, sans-serif';
const TXT = '#262626';

const parsePts = (s: string) =>
  s.trim().split(/\s+/).map((p) => {
    const [x, y] = p.split(':').map(Number);
    return { x, y };
  });

const minorTicks = (domain: [number, number], majors: number[]) => {
  const out: number[] = [];
  const lo = Math.floor(Math.log10(domain[0]));
  const hi = Math.ceil(Math.log10(domain[1]));
  for (let e = lo; e <= hi; e++) {
    for (let k = 2; k <= 9; k++) {
      const v = parseFloat((k * Math.pow(10, e)).toPrecision(6));
      if (v > domain[0] && v < domain[1] && !majors.includes(v)) out.push(v);
    }
  }
  return out;
};

const XTick = (props: any) => {
  const { x, y, payload, majors } = props;
  const v = payload.value;
  const isMajor = majors.some((m: number) => Math.abs(m - v) / m < 1e-6);
  const bottom = y - 8;
  if (!isMajor) {
    return (
      <g>
        <line x1={x} x2={x} y1={bottom - 2} y2={bottom} stroke={TXT} strokeWidth={1} />
        <line x1={x} x2={x} y1={bottom - PH} y2={bottom - PH + 2} stroke={TXT} strokeWidth={1} />
      </g>
    );
  }
  const exp = Math.round(Math.log10(v));
  return (
    <g>
      <line x1={x} x2={x} y1={bottom - 4} y2={bottom} stroke={TXT} strokeWidth={1.5} />
      <line x1={x} x2={x} y1={bottom - PH} y2={bottom - PH + 4} stroke={TXT} strokeWidth={1.5} />
      <text x={x} y={y + 22} textAnchor="middle" fontSize={15} fill={TXT} fontFamily={FONT}>
        <tspan>10</tspan>
        <tspan dy={-7} fontSize={10}>{String(exp)}</tspan>
      </text>
    </g>
  );
};

const YTick = (props: any) => {
  const { x, y, payload } = props;
  const left = x + 6;
  return (
    <g>
      <line x1={left} x2={left + 4} y1={y} y2={y} stroke={TXT} strokeWidth={1.5} />
      <line x1={left + PW - 4} x2={left + PW} y1={y} y2={y} stroke={TXT} strokeWidth={1.5} />
      <text x={x} y={y + 5} textAnchor="end" fontSize={15} fill={TXT} fontFamily={FONT}>
        {String(payload.value)}
      </text>
    </g>
  );
};

const circleShape = (color: string) => (p: any) => (
  <circle cx={p.cx} cy={p.cy} r={4.8} fill="none" stroke={color} strokeWidth={1.25} />
);

const triShape = (p: any) => {
  const { cx, cy } = p;
  return (
    <g>
      <polygon points={`${cx},${cy - 5} ${cx - 4.5},${cy + 3.3} ${cx + 4.5},${cy + 3.3}`} fill="#7030A0" stroke="#8a4fb0" strokeWidth={0.6} />
      <polygon points={`${cx},${cy - 1.8} ${cx - 1.8},${cy + 1.8} ${cx + 1.8},${cy + 1.8}`} fill="#2222CC" />
    </g>
  );
};

function Panel({ idx }: { idx: number }) {
  const col = idx % 3;
  const row = Math.floor(idx / 3);
  const left = COL_LEFT[col];
  const top = ROW_TOP[row];
  const clusters = allClusters[idx].map((s, i) => parsePts(s + ' ' + allExtra[idx][i]));
  const tri = parsePts(allTriangles[idx]);
  const blue = parsePts(allBlue[idx]);
  const red = parsePts(allRed[idx]);
  const majors = xMajorTicks[idx];
  const minors = xMinorGrid[idx] ? minorTicks(xDomains[idx], majors) : [];
  const ticks = [...majors, ...minors].sort((a, b) => a - b);
  const label = panelLabels[idx];
  const boxW = label.length > 9 ? 117 : 110;
  const boxTop = row === 0 ? top + 4 : top + PH - 4 - 37;
  return (
    <>
      <div style={{ position: 'absolute', left: left - 50, top: top - 10 }}>
        <ComposedChart width={PW + 70} height={PH + 45} margin={{ top: 10, right: 20, bottom: 0, left: 0 }}>
          <CartesianGrid vertical={false} stroke="#9c9c9c" strokeDasharray="2 2" strokeWidth={1} />
          {minors.map((v) => (
            <ReferenceLine key={'mn' + v} x={v} stroke="#c4c4c4" strokeDasharray="1 3" strokeWidth={1} ifOverflow="hidden" />
          ))}
          {majors.map((v) => (
            <ReferenceLine key={'mj' + v} x={v} stroke="#9c9c9c" strokeDasharray="2 2" strokeWidth={1} ifOverflow="hidden" />
          ))}
          <XAxis
            dataKey="x"
            type="number"
            scale="log"
            domain={xDomains[idx]}
            ticks={ticks}
            interval={0}
            allowDataOverflow
            axisLine={false}
            tickLine={false}
            height={35}
            tick={<XTick majors={majors} />}
          />
          <YAxis
            dataKey="y"
            type="number"
            domain={yDomains[idx]}
            ticks={yTickValues[idx]}
            interval={0}
            allowDataOverflow
            axisLine={false}
            tickLine={false}
            tickSize={4}
            tickMargin={2}
            width={50}
            tick={<YTick />}
          />
          {clusters.map((c, i) => (
            <Scatter key={'c' + i} data={c} shape={circleShape(CLUSTER_COLORS[i])} isAnimationActive={false} zIndex={600} />
          ))}
          <Scatter data={tri} shape={triShape} isAnimationActive={false} zIndex={650} />
          <Line data={blue} dataKey="y" type="monotone" stroke="#0000FF" strokeWidth={2} dot={false} activeDot={false} isAnimationActive={false} zIndex={700} />
          <Line data={red} dataKey="y" type="monotone" stroke="#FF0000" strokeWidth={2.6} dot={false} activeDot={false} isAnimationActive={false} zIndex={710} />
        </ComposedChart>
      </div>
      <div
        style={{
          position: 'absolute',
          left: left - 1,
          top: top - 1,
          width: PW + 2,
          height: PH + 2,
          border: '2px solid #262626',
          boxSizing: 'border-box',
          pointerEvents: 'none',
        }}
      />
      <div
        style={{
          position: 'absolute',
          left: left + 3,
          top: boxTop,
          width: boxW,
          height: 37,
          border: '1.5px solid #111',
          background: '#fff',
          boxSizing: 'border-box',
          display: 'flex',
          alignItems: 'center',
          justifyContent: 'center',
          fontFamily: FONT,
          fontSize: 20,
          color: '#111',
        }}
      >
        {label}
      </div>
    </>
  );
}

export default function App() {
  return (
    <div style={{ position: 'absolute', left: 0, top: 0, width: 1080, height: 1123, background: '#fff', overflow: 'hidden' }}>
      {[0, 1, 2, 3, 4, 5, 6, 7, 8].map((i) => (
        <Panel key={i} idx={i} />
      ))}
      <svg width={1080} height={1123} style={{ position: 'absolute', left: 0, top: 0, pointerEvents: 'none' }}>
        {ROW_TOP.map((t, i) => (
          <text
            key={'yt' + i}
            transform={`translate(26,${t + PH / 2 - 1}) rotate(-90)`}
            textAnchor="middle"
            fontSize={17}
            fill={TXT}
            fontFamily={FONT}
          >
            {Y_TITLE}
          </text>
        ))}
        {COL_LEFT.map((l, i) => (
          <text key={'xt' + i} x={l + PW / 2 - 4} y={1053} textAnchor="middle" fontSize={17} fill={TXT} fontFamily={FONT}>
            <tspan>S</tspan>
            <tspan dy={-8} fontSize={12}>r</tspan>
            <tspan dx={-4} dy={14} fontSize={12}>a</tspan>
            <tspan dx={4} dy={-6}>(g)</tspan>
          </text>
        ))}
        <text x={3} y={1108} fontSize={22} fill="#333" fontFamily='"Noto Sans CJK KR", sans-serif'>{CAPTION_PARTS[0]}</text>
        <text x={53} y={1108} fontSize={21} fill="#333" letterSpacing={3} fontFamily='"Noto Sans CJK KR", sans-serif'>{CAPTION_PARTS[1]}</text>
        <text x={113} y={1108} fontSize={21} fill="#333" letterSpacing={4} fontFamily='"Noto Sans CJK KR", sans-serif'>{CAPTION_PARTS[2]}</text>
        <text x={178} y={1108} fontSize={21} fill="#333" fontFamily='"Noto Sans CJK KR", sans-serif'>{CAPTION_PARTS[3]}</text>
      </svg>
    </div>
  );
}
